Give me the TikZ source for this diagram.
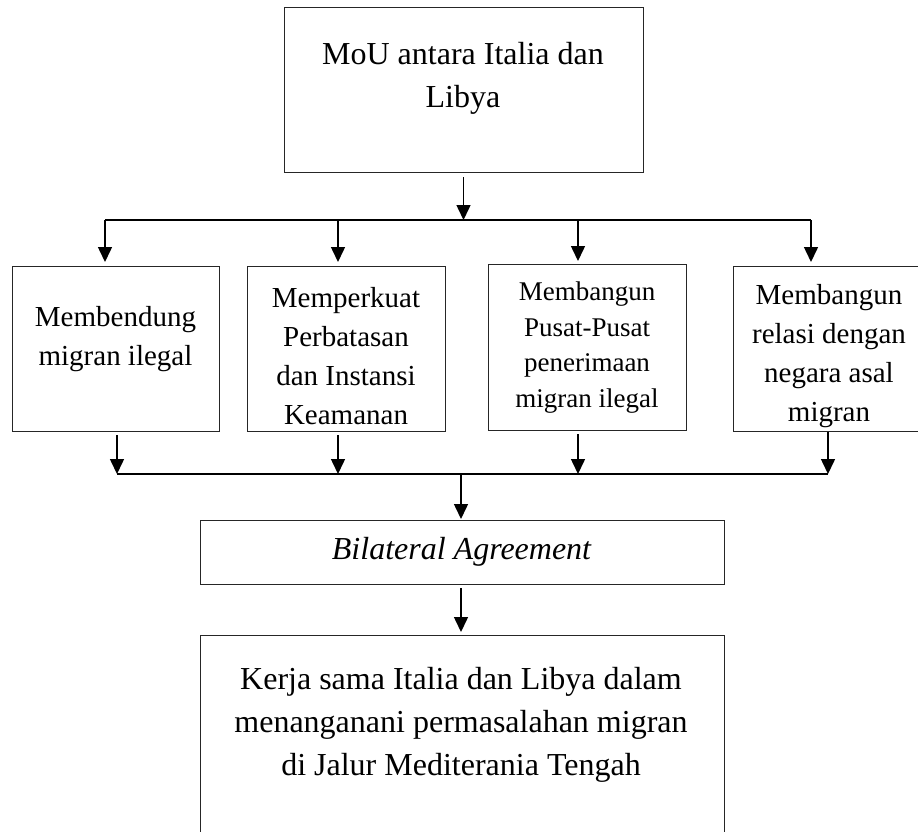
\documentclass[tikz,border=0pt]{standalone}
\usepackage{fontspec}
\setmainfont{Liberation Serif}
\usetikzlibrary{arrows.meta}
\begin{document}
\begin{tikzpicture}[x=1pt,y=-1pt,
 box/.style={draw=black!85, line width=1pt, inner sep=0pt, outer sep=0pt},
 conn/.style={line width=1.5pt, black},
 arr/.style={conn, -{Triangle[length=15pt,width=14pt]}},
 big/.style={font=\fontsize{32}{43}\selectfont, align=center, inner sep=0pt},
 mid/.style={font=\fontsize{29}{39}\selectfont, align=center, inner sep=0pt},
 small/.style={font=\fontsize{27}{35.5}\selectfont, align=center, inner sep=0pt}]
\clip (0,0) rectangle (918,831);
\fill[white] (0,0) rectangle (918,831);
% boxes
\node[box, minimum width=359pt, minimum height=165pt] (top) at (463.5,89.5) {};
\node[box, minimum width=207pt, minimum height=165pt] (b1) at (115.5,348.5) {};
\node[box, minimum width=198pt, minimum height=165pt] (b2) at (346,348.5) {};
\node[box, minimum width=198pt, minimum height=166pt] (b3) at (587,347) {};
\node[box, minimum width=190pt, minimum height=165pt] (b4) at (828,348.5) {};
\node[box, minimum width=524pt, minimum height=64pt] (bil) at (462,552) {};
\node[box, minimum width=524pt, minimum height=265pt] (res) at (462,767.5) {};
% texts
\node[big] (ttop) at (463,78) {MoU antara Italia dan\\Libya};
\begin{scope}
\clip (b1.north west) rectangle (b1.south east);
\node[mid] (t1) at (115.5,339) {Membendung\\migran ilegal};
\end{scope}
\begin{scope}
\clip (b2.north west) rectangle (b2.south east);
\node[mid] (t2) at (346,356) {Memperkuat\\Perbatasan\\dan Instansi\\Keamanan};
\end{scope}
\begin{scope}
\clip (b3.north west) rectangle (b3.south east);
\node[small] (t3) at (587,347.5) {Membangun\\Pusat-Pusat\\penerimaan\\migran ilegal};
\end{scope}
\begin{scope}
\clip (b4.north west) rectangle (b4.south east);
\node[mid] (t4) at (829,356) {Membangun\\relasi dengan\\negara asal\\migran};
\end{scope}
\node[big] (tbil) at (461.5,552) {\itshape Bilateral Agreement};
\node[big] (tres) at (461,725) {Kerja sama Italia dan Libya dalam\\menanganani permasalahan migran\\di Jalur Mediterania Tengah};
% connectors
\coordinate (hl) at (105,220);
\coordinate (h2) at (338,220);
\coordinate (h3) at (578,220);
\coordinate (hr) at (811,220);
\coordinate (bl) at (117,474);
\coordinate (m2) at (338,474);
\coordinate (m3) at (578,474);
\coordinate (br) at (828,474);
\coordinate (bm) at (461,474);
\draw[arr] ([yshift=-5pt]top.south) -- (top.south |- hl);
\draw[conn] (hl) -- (hr);
\draw[arr] (hl) -- ([yshift=4pt]b1.north -| hl);
\draw[arr] (h2) -- ([yshift=4pt]b2.north -| h2);
\draw[arr] (h3) -- ([yshift=3pt]b3.north -| h3);
\draw[arr] (hr) -- ([yshift=4pt]b4.north -| hr);
\draw[arr] ([yshift=-4pt]b1.south -| bl) -- (bl);
\draw[arr] ([yshift=-4pt]b2.south -| m2) -- (m2);
\draw[arr] ([yshift=-4pt]b3.south -| m3) -- (m3);
\draw[arr] ([yshift=-1pt]b4.south -| br) -- (br);
\draw[conn] (bl) -- (br);
\draw[arr] (bm) -- ([yshift=1pt]bil.north -| bm);
\draw[arr] ([yshift=-4pt]bil.south -| bm) -- ([yshift=3pt]res.north -| bm);
\end{tikzpicture}
\end{document}
